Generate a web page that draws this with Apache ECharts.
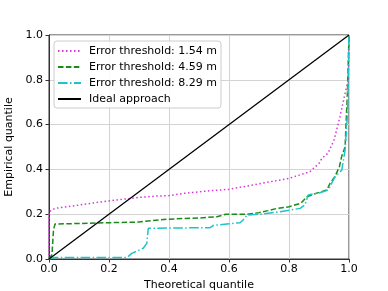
<!DOCTYPE html>
<html>
<head>
<meta charset="utf-8">
<script src="https://cdn.jsdelivr.net/npm/echarts@6/dist/echarts.min.js"></script>
<style>html,body{margin:0;padding:0;background:#fff;}#c{width:388px;height:291px;}</style>
</head>
<body>
<div id="c"></div>
<script>
var seriesNames = ['Error threshold: 1.54 m', 'Error threshold: 4.59 m', 'Error threshold: 8.29 m', 'Ideal approach'];
var tickValues = [0, 0.2, 0.4, 0.6, 0.8, 1.0];

var magentaX = [0, 0, 0.003, 0.02, 0.08, 0.19, 0.30, 0.36, 0.40, 0.45, 0.53, 0.60, 0.71, 0.80, 0.87, 0.90, 0.91, 0.93, 0.95, 0.97, 0.987, 0.998, 1.0];
var magentaY = [0, 0.21, 0.216, 0.226, 0.237, 0.258, 0.275, 0.281, 0.283, 0.293, 0.304, 0.311, 0.338, 0.36, 0.39, 0.427, 0.45, 0.472, 0.531, 0.635, 0.74, 0.80, 1.0];

var greenX = [0, 0.01, 0.015, 0.02, 0.05, 0.2, 0.3, 0.34, 0.40, 0.45, 0.50, 0.56, 0.59, 0.66, 0.70, 0.73, 0.76, 0.80, 0.84, 0.86, 0.89, 0.926, 0.937, 0.953, 0.968, 0.976, 0.987, 0.99, 0.995, 1.0];
var greenY = [0, 0.02, 0.13, 0.156, 0.157, 0.162, 0.165, 0.171, 0.178, 0.181, 0.183, 0.189, 0.2, 0.2, 0.207, 0.216, 0.226, 0.233, 0.249, 0.278, 0.293, 0.308, 0.338, 0.367, 0.412, 0.46, 0.50, 0.6, 0.75, 1.0];

var cyanX = [0, 0.02, 0.26, 0.276, 0.314, 0.326, 0.331, 0.337, 0.537, 0.548, 0.592, 0.637, 0.653, 0.659, 0.703, 0.77, 0.837, 0.853, 0.864, 0.903, 0.931, 0.942, 0.953, 0.976, 0.987, 0.995, 1.0];
var cyanY = [0, 0.007, 0.007, 0.025, 0.048, 0.07, 0.137, 0.14, 0.14, 0.15, 0.156, 0.162, 0.182, 0.196, 0.2, 0.211, 0.226, 0.241, 0.286, 0.296, 0.308, 0.338, 0.367, 0.397, 0.487, 0.65, 1.0];

var idealX = [0, 1];
var idealY = [0, 1];

function pairs(xs, ys) { return xs.map(function (x, i) { return [x, ys[i]]; }); }

var FONT = 'DejaVu Sans';
var chart = echarts.init(document.getElementById('c'), null, { renderer: 'canvas' });

function axisCommon(name, gap) {
  return {
    type: 'value', min: 0, max: 1, interval: 0.2,
    name: name, nameLocation: 'middle', nameGap: gap,
    nameTextStyle: { fontFamily: FONT, fontSize: 11, color: '#000' },
    axisLine: { show: true, lineStyle: { color: '#333', width: 1 } },
    axisTick: { show: true, length: 3.5, lineStyle: { color: '#333', width: 1 } },
    axisLabel: { fontFamily: FONT, fontSize: 11, color: '#000', formatter: function (v) { return v.toFixed(1); } },
    splitLine: { show: true, lineStyle: { color: '#d3d3d3', width: 1 } }
  };
}

var xa = axisCommon('Theoretical quantile', 18);
xa.axisLabel.margin = 5;
var ya = axisCommon('Empirical quantile', 28);
ya.axisLabel.margin = 6;

function lineSeries(name, data, color, type, width, z) {
  return {
    name: name, type: 'line', data: data, symbol: 'none', showSymbol: false,
    animation: false, z: z, clip: true,
    lineStyle: { color: color, width: width, type: type },
    itemStyle: { color: color }
  };
}

chart.setOption({
  animation: false,
  backgroundColor: '#fff',
  grid: { left: 49, right: 39, top: 35, bottom: 32, show: true, borderColor: '#333', borderWidth: 1, backgroundColor: 'transparent', containLabel: false, outerBoundsMode: 'none' },
  xAxis: xa,
  yAxis: ya,
  legend: {
    orient: 'vertical', left: 54, top: 41,
    padding: [4, 4, 3, 3],
    itemWidth: 23, itemHeight: 12, itemGap: 4,
    itemStyle: { color: 'transparent', borderWidth: 0, opacity: 0 },
    backgroundColor: 'rgba(255,255,255,0.85)', borderColor: '#ccc', borderWidth: 1, borderRadius: 3,
    textStyle: { fontFamily: FONT, fontSize: 11, color: '#000', lineHeight: 12, padding: [0, 0, 0, 3] },
    data: seriesNames
  },
  series: [
    lineSeries(seriesNames[0], pairs(magentaX, magentaY), '#d936d9', [1.5, 2.5], 1.5, 2),
    lineSeries(seriesNames[1], pairs(greenX, greenY), '#1a8a1a', [5.5, 2.4], 1.5, 3),
    lineSeries(seriesNames[2], pairs(cyanX, cyanY), '#1ec4c8', [9.6, 2.4, 1.5, 2.4], 1.5, 4),
    lineSeries(seriesNames[3], pairs(idealX, idealY), '#000000', 'solid', 1.3, 5)
  ]
});
</script>
</body>
</html>
